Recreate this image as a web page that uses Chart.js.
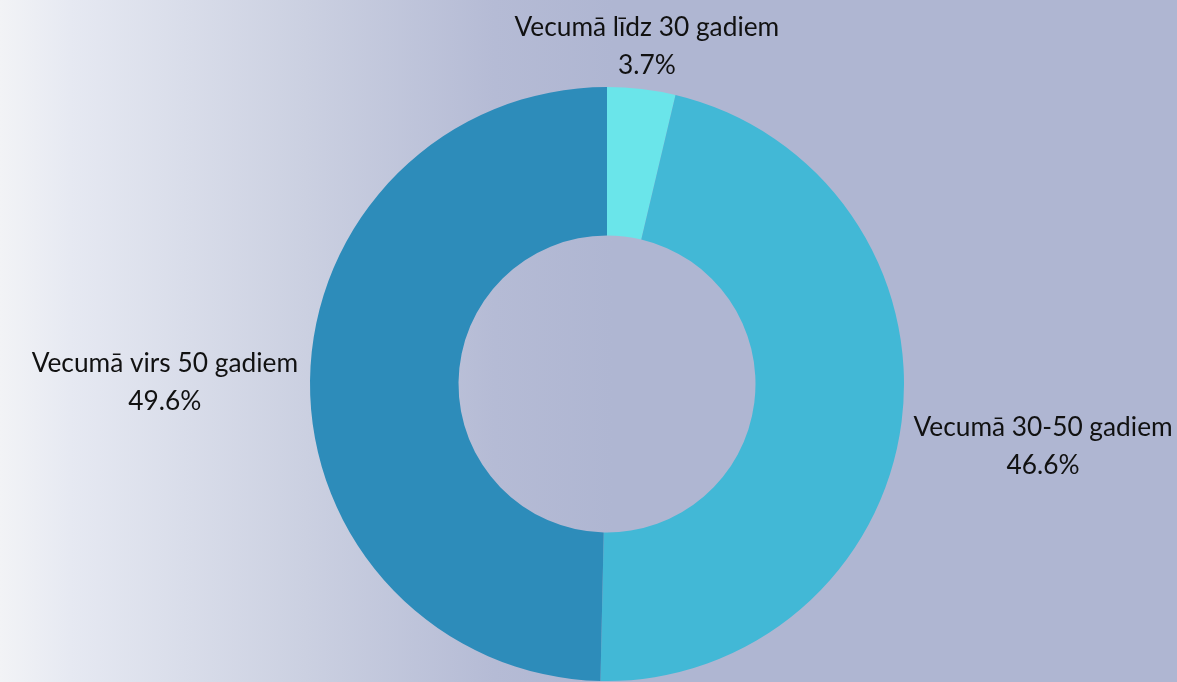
<!DOCTYPE html>
<html lang="lv">
<head>
<meta charset="utf-8">
<title>Vecuma grupas</title>
<script src="https://cdn.jsdelivr.net/npm/chart.js@4.4.1/dist/chart.umd.min.js"></script>
<style>
  html, body { margin: 0; padding: 0; }
  body {
    width: 1177px; height: 682px; overflow: hidden;
    background: linear-gradient(to right, #f2f3f6 0%, #e6e9f2 6%, #cbd0e1 26%, #b5bbd5 42%, #afb6d2 52%, #afb6d2 100%);
  }
  #wrap { position: relative; width: 1177px; height: 682px; }
</style>
</head>
<body>
<div id="wrap"><canvas id="chart" width="1177" height="682"></canvas></div>
<script>
// Age groups and their shares (%)
const categories = ['Vecumā līdz 30 gadiem', 'Vecumā 30-50 gadiem', 'Vecumā virs 50 gadiem'];
const shares = [3.7, 46.6, 49.6];
const sliceColors = ['#6ae5ea', '#42b8d6', '#2d8cba'];

const FONT = '26.3px Lato, "Noto Sans", sans-serif';
const LINE_H = 38;

// Draws two-line labels (name + percentage) just outside each arc,
// pushed out along the arc's mid-angle until the text box clears the ring.
const outsideLabels = {
  id: 'outsideLabels',
  afterDatasetsDraw(chart) {
    const ctx = chart.ctx;
    const meta = chart.getDatasetMeta(0);
    ctx.save();
    ctx.font = FONT;
    ctx.fillStyle = '#111111';
    ctx.textAlign = 'center';
    ctx.textBaseline = 'middle';
    meta.data.forEach((arc, i) => {
      const mid = (arc.startAngle + arc.endAngle) / 2;
      const dx = Math.cos(mid), dy = Math.sin(mid);
      const r = arc.outerRadius + 12;
      const ax = arc.x + dx * r, ay = arc.y + dy * r;
      const lines = [categories[i], shares[i].toFixed(1) + '%'];
      const w = Math.max(...lines.map(t => ctx.measureText(t).width));
      const h = LINE_H * lines.length - 8;
      const tx = Math.abs(dx) > 1e-6 ? (w / 2) / Math.abs(dx) : Infinity;
      const ty = Math.abs(dy) > 1e-6 ? (h / 2) / Math.abs(dy) : Infinity;
      const t = Math.min(tx, ty);
      const cx = ax + dx * t;
      const cy = ay + dy * t + 3 + Math.max(0, dy) * 30;
      lines.forEach((txt, k) => {
        ctx.fillText(txt, cx, cy + (k - (lines.length - 1) / 2) * LINE_H);
      });
    });
    ctx.restore();
  }
};

new Chart(document.getElementById('chart'), {
  type: 'doughnut',
  data: {
    labels: categories,
    datasets: [{
      data: shares,
      backgroundColor: sliceColors,
      borderWidth: 0,
      hoverOffset: 0
    }]
  },
  options: {
    responsive: false,
    animation: false,
    cutout: '50%',
    layout: { padding: { top: 87, bottom: 1, left: 37, right: 0 } },
    plugins: {
      legend: { display: false },
      tooltip: { enabled: false }
    }
  },
  plugins: [outsideLabels]
});
</script>
</body>
</html>
